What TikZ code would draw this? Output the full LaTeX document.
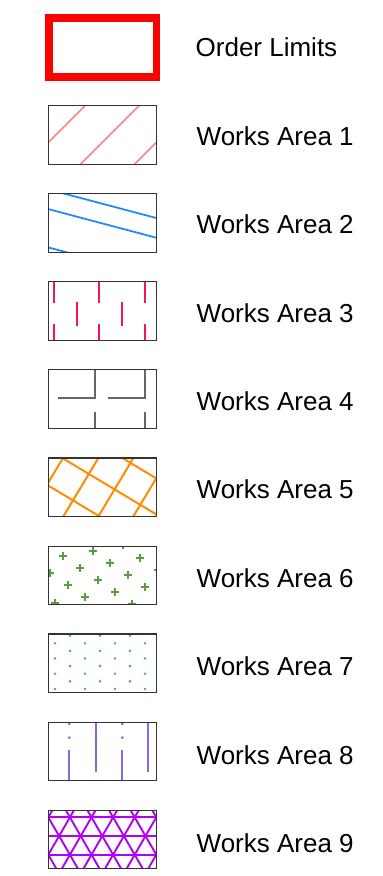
\documentclass[tikz,border=0pt]{standalone}
\usepackage{fontspec}
\setmainfont{Liberation Sans}
\definecolor{olred}{HTML}{FF0000}
\definecolor{wa1}{HTML}{FF8282}
\definecolor{wa2}{HTML}{1E8CFF}
\definecolor{wa3}{HTML}{F2165A}
\definecolor{wa4}{HTML}{666666}
\definecolor{wa5}{HTML}{FF8C00}
\definecolor{wa6}{HTML}{5A9C3E}
\definecolor{wa7}{HTML}{2EAAE0}
\definecolor{wa8}{HTML}{8A66E2}
\definecolor{wa9}{HTML}{B200F5}
\begin{document}
\begin{tikzpicture}[x=1pt,y=-1pt,
  swatchbox/.style={draw=black!80, line width=1.1pt},
  legendlabel/.style={anchor=base west, inner sep=0pt, font=\fontsize{26}{30}\selectfont},
  hatchone/.style={draw=wa1, line width=1.6pt},
  hatchtwo/.style={draw=wa2, line width=1.8pt},
  hatchthree/.style={draw=wa3, line width=2.2pt},
  hatchfour/.style={draw=wa4, line width=1.5pt},
  hatchfive/.style={draw=wa5, line width=2pt},
  hatchsix/.style={draw=wa6, line width=2pt},
  dotseven/.style={fill=wa7},
  hatcheight/.style={draw=wa8, line width=1.9pt},
  doteight/.style={fill=wa8},
  hatchnine/.style={draw=wa9, line width=1.9pt}]
\useasboundingbox (0,0) rectangle (383,876);

% Order limits
\draw[olred, line width=7.5pt] (48.8,17.8) rectangle (156.6,76.8);

% Works Area 1
\begin{scope}[shift={(48.3,105.7)}]
  \begin{scope}
    \clip (0,0) rectangle (108.4,58.5);
    \foreach \a in {-21.8,32.2,86.2}{\draw[hatchone] (\a,58.5) -- ({\a+60},-1.5);}
  \end{scope}
  \draw[swatchbox] (0,0) rectangle (108.4,58.5);
\end{scope}

% Works Area 2
\begin{scope}[shift={(48.3,193.8)}]
  \begin{scope}
    \clip (0,0) rectangle (108.4,58.5);
    \foreach \a in {-4.4,15.3,53.6}{\draw[hatchtwo] (-2,{\a-0.53}) -- (112,{\a+0.265*112});}
  \end{scope}
  \draw[swatchbox] (0,0) rectangle (108.4,58.5);
\end{scope}

% Works Area 3
\begin{scope}[shift={(48.3,281.8)}]
  \begin{scope}
    \clip (0,0) rectangle (108.4,58.5);
    \foreach \a in {6,51,96.7}{\draw[hatchthree] (\a,-1) -- (\a,20.7);
      \draw[hatchthree] (\a,42.4) -- (\a,60);}
    \foreach \a in {28.4,74}{\draw[hatchthree] (\a,19.7) -- (\a,44);}
  \end{scope}
  \draw[swatchbox] (0,0) rectangle (108.4,58.5);
\end{scope}

% Works Area 4
\begin{scope}[shift={(48.3,369.9)}]
  \begin{scope}
    \clip (0,0) rectangle (108.4,58.5);
    \draw[hatchfour] (46.7,0) -- (46.7,28.3) -- (10,28.3);
    \draw[hatchfour] (96.7,0) -- (96.7,28.3) -- (60,28.3);
    \draw[hatchfour] (46.7,41.7) -- (46.7,58.5);
    \draw[hatchfour] (96.7,41.7) -- (96.7,58.5);
  \end{scope}
  \draw[swatchbox] (0,0) rectangle (108.4,58.5);
\end{scope}

% Works Area 5
\begin{scope}[shift={(48.3,458.0)}]
  \begin{scope}
    \clip (0,0) rectangle (108.4,58.5);
    \foreach \a in {-46,14,74}{\draw[hatchfive] (\a,0) -- ({\a+130},78);}
    \foreach \a in {-20.4,15,50,85}{\draw[hatchfive] (\a,58.5) -- ({\a+60},{58.5-100});}
  \end{scope}
  \draw[swatchbox] (0,0) rectangle (108.4,58.5);
\end{scope}

% Works Area 6
\begin{scope}[shift={(48.3,546.1)}]
  \begin{scope}
    \clip (0,0) rectangle (108.4,58.5);
    \foreach \i in {-5,...,5}{\foreach \j in {-3,...,6}{
      \pgfmathsetmacro\cx{14.4+30*\i+17.4*\j}
      \pgfmathsetmacro\cy{9.7-5.2*\i+12.1*\j}
      \draw[hatchsix] (\cx-4,\cy) -- (\cx+4,\cy) (\cx,\cy-4) -- (\cx,\cy+4);
    }}
  \end{scope}
  \draw[swatchbox] (0,0) rectangle (108.4,58.5);
\end{scope}

% Works Area 7
\begin{scope}[shift={(48.3,634.0)}]
  \begin{scope}
    \clip (0,0) rectangle (108.4,58.5);
    \foreach \k in {0,2,4,6}{\foreach \a in {21.7,51.7,81.7}{
      \fill[dotseven] (\a,{1.6+7.63*\k}) circle (1.4);}}
    \foreach \k in {1,3,5,7}{\foreach \a in {6.7,36.7,66.7,96.7}{
      \fill[dotseven] (\a,{1.6+7.63*\k}) circle (1.4);}}
  \end{scope}
  \draw[swatchbox] (0,0) rectangle (108.4,58.5);
\end{scope}

% Works Area 8
\begin{scope}[shift={(48.3,722.2)}]
  \begin{scope}
    \clip (0,0) rectangle (108.4,58.5);
    \foreach \a in {21,74}{
      \fill[doteight] (\a,1.7) circle (1.5);
      \fill[doteight] (\a,15.4) circle (1.5);
      \draw[hatcheight] (\a,27.7) -- (\a,60);}
    \foreach \a in {47.7,100}{\draw[hatcheight] (\a,-1) -- (\a,49.4);}
  \end{scope}
  \draw[swatchbox] (0,0) rectangle (108.4,58.5);
\end{scope}

% Works Area 9
\begin{scope}[shift={(48.3,810.3)}]
  \begin{scope}
    \clip (0,0) rectangle (108.4,58.5);
    \foreach \a in {7,25.7,44.4}{\draw[hatchnine] (-2,\a) -- (111,\a);}
    \foreach \k in {-3,...,8}{
      \draw[hatchnine] ({21.6*\k-10.8},-11.7) -- ({21.6*\k+32.4},63.1);
      \draw[hatchnine] ({21.6*\k+10.8},-11.7) -- ({21.6*\k-32.4},63.1);}
  \end{scope}
  \draw[swatchbox] (0,0) rectangle (108.4,58.5);
\end{scope}

% Labels
\node[legendlabel] (lbl0) at (195.5,56.8) {Order Limits};
\node[legendlabel] (lbl1) at (196.5,145.3) {Works Area 1};
\node[legendlabel] (lbl2) at (196.5,233.7) {Works Area 2};
\node[legendlabel] (lbl3) at (196.5,322.1) {Works Area 3};
\node[legendlabel] (lbl4) at (196.5,410.5) {Works Area 4};
\node[legendlabel] (lbl5) at (196.5,498.9) {Works Area 5};
\node[legendlabel] (lbl6) at (196.5,587.3) {Works Area 6};
\node[legendlabel] (lbl7) at (196.5,675.7) {Works Area 7};
\node[legendlabel] (lbl8) at (196.5,764.1) {Works Area 8};
\node[legendlabel] (lbl9) at (196.5,852.6) {Works Area 9};
\end{tikzpicture}
\end{document}
